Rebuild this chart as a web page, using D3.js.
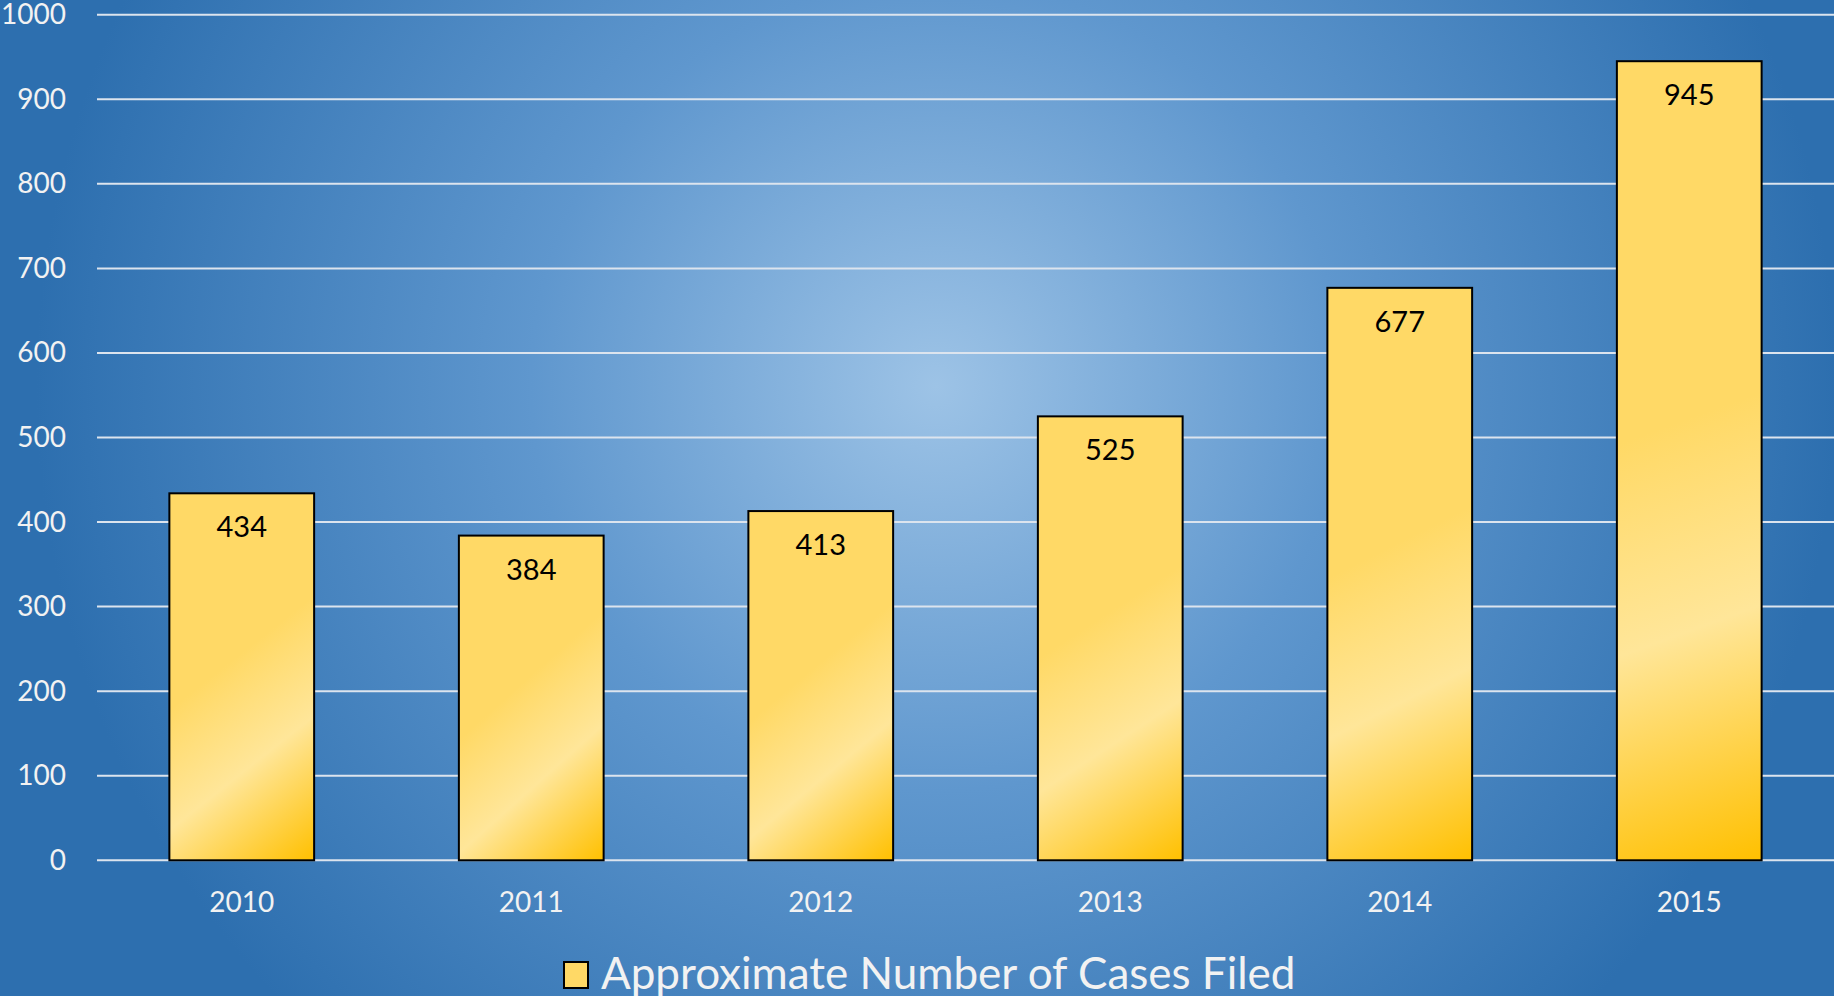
<!DOCTYPE html>
<html>
<head>
<meta charset="utf-8">
<script src="https://cdn.jsdelivr.net/npm/d3@7"></script>
<style>
  html, body { margin: 0; padding: 0; background: #2E74B6; overflow: hidden; }
  svg { display: block; font-family: Lato, "Open Sans", sans-serif; }
</style>
</head>
<body>
<div id="chart"></div>
<script>
// chart data
const YEARS = ["2010", "2011", "2012", "2013", "2014", "2015"];
const CASES = [434, 384, 413, 525, 677, 945];
const Y_TICKS = [0, 100, 200, 300, 400, 500, 600, 700, 800, 900, 1000];
const SERIES_NAME = "Approximate Number of Cases Filed";

const FRAME_WIDTH = 1834;
const FRAME_HEIGHT = 996;
const PLOT = {left: 97, right: 1834, top: 14.7, bottom: 860.3};

const svg = d3.select("#chart")
  .append("svg")
    .attr("width", FRAME_WIDTH)
    .attr("height", FRAME_HEIGHT);

const defs = svg.append("defs");

// background radial glow
const bg = defs.append("radialGradient")
    .attr("id", "bg")
    .attr("gradientUnits", "userSpaceOnUse")
    .attr("cx", 936).attr("cy", 386).attr("r", 900);
bg.append("stop").attr("offset", 0).attr("stop-color", "#9DC3E6");
bg.append("stop").attr("offset", 0.45).attr("stop-color", "#5F97CE");
bg.append("stop").attr("offset", 1).attr("stop-color", "#2D6FAF");

svg.append("rect")
    .attr("width", FRAME_WIDTH)
    .attr("height", FRAME_HEIGHT)
    .attr("fill", "url(#bg)");

// scales
const xScale = d3.scaleBand()
    .domain(YEARS)
    .range([PLOT.left, PLOT.right])
    .paddingInner(0.5)
    .paddingOuter(0.25);

const yScale = d3.scaleLinear()
    .domain([0, 1000])
    .range([PLOT.bottom, PLOT.top]);

// gridlines
svg.append("g")
  .selectAll("line")
  .data(Y_TICKS)
  .enter()
  .append("line")
    .attr("x1", PLOT.left)
    .attr("x2", FRAME_WIDTH)
    .attr("y1", d => yScale(d))
    .attr("y2", d => yScale(d))
    .attr("stroke", "#DCE4EE")
    .attr("stroke-width", 2);

// y axis labels
const yAxis = svg.append("g")
    .attr("transform", "translate(" + (PLOT.left - 31) + ",0)")
    .call(d3.axisLeft(yScale).tickValues(Y_TICKS).tickFormat(d3.format("d")).tickSize(0).tickPadding(0));
yAxis.select(".domain").remove();
yAxis.selectAll("text")
    .attr("font-size", "28px")
    .attr("font-family", "Lato, sans-serif")
    .attr("fill", "#F2F2F2");

// x axis labels
const xAxis = svg.append("g")
    .attr("transform", "translate(0," + PLOT.bottom + ")")
    .call(d3.axisBottom(xScale).tickSize(0).tickPadding(32));
xAxis.select(".domain").remove();
xAxis.selectAll("text")
    .attr("font-size", "28px")
    .attr("font-family", "Lato, sans-serif")
    .attr("fill", "#F2F2F2");

// per-bar gold gradients, light band runs diagonally near the bottom
const bw = xScale.bandwidth();
YEARS.forEach((yr, i) => {
  const x0 = xScale(yr);
  const top = yScale(CASES[i]);
  const h = PLOT.bottom - top;
  const k = (2 * bw * bw + h * h) / (4 * bw * bw + h * h);
  const g = defs.append("linearGradient")
      .attr("id", "bar" + i)
      .attr("gradientUnits", "userSpaceOnUse")
      .attr("x1", x0).attr("y1", top)
      .attr("x2", x0 + 2 * bw * k).attr("y2", top + h * k);
  g.append("stop").attr("offset", 0).attr("stop-color", "#FFD966");
  g.append("stop").attr("offset", 0.45).attr("stop-color", "#FFD966");
  g.append("stop").attr("offset", 0.7).attr("stop-color", "#FFE699");
  g.append("stop").attr("offset", 1).attr("stop-color", "#FFC000");
});

// bars
svg.append("g")
  .selectAll("rect")
  .data(CASES)
  .enter()
  .append("rect")
    .attr("x", (d, i) => xScale(YEARS[i]))
    .attr("y", d => yScale(d))
    .attr("width", bw)
    .attr("height", d => PLOT.bottom - yScale(d))
    .attr("fill", (d, i) => "url(#bar" + i + ")")
    .attr("stroke", "#000")
    .attr("stroke-width", 2);

// value labels
svg.append("g")
  .selectAll("text")
  .data(CASES)
  .enter()
  .append("text")
    .attr("x", (d, i) => xScale(YEARS[i]) + bw / 2)
    .attr("y", d => yScale(d) + 44)
    .attr("text-anchor", "middle")
    .attr("font-size", "29px")
    .attr("fill", "#000")
    .text(d => d);

// legend
const legend = svg.append("g");
legend.append("rect")
    .attr("x", 564).attr("y", 962)
    .attr("width", 24).attr("height", 26)
    .attr("fill", "#FFD966")
    .attr("stroke", "#000")
    .attr("stroke-width", 2);
legend.append("text")
    .attr("x", 601)
    .attr("y", 989)
    .attr("font-size", "44px")
    .attr("fill", "#F2F2F2")
    .text(SERIES_NAME);
</script>
</body>
</html>
